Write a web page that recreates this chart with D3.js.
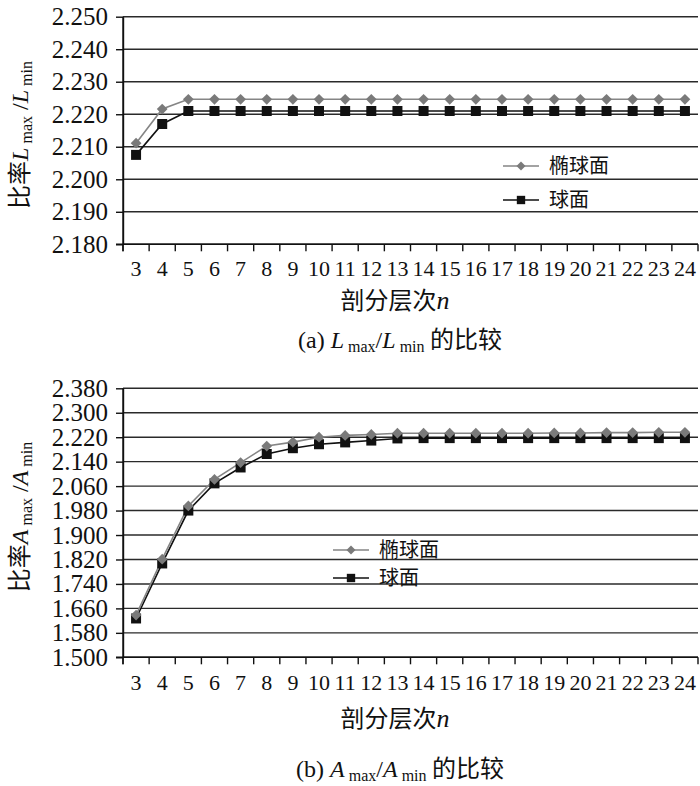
<!DOCTYPE html>
<html><head><meta charset="utf-8">
<script src="https://cdn.jsdelivr.net/npm/d3@7"></script>
<style>
body{margin:0;background:#fff;}
svg text{fill:#111;}
</style></head><body>
<svg id="c" width="700" height="786"></svg>
<script>
// ---- data ----
const categories = [3,4,5,6,7,8,9,10,11,12,13,14,15,16,17,18,19,20,21,22,23,24];
const seriesNames = ["椭球面","球面"];
const ellipsoidL = [2.2111,2.2216,2.2246,2.2246,2.2246,2.2246,2.2246,2.2246,2.2246,2.2246,2.2246,2.2246,2.2246,2.2246,2.2246,2.2246,2.2246,2.2246,2.2246,2.2246,2.2246,2.2246];
const sphereL    = [2.2075,2.2170,2.2210,2.2210,2.2210,2.2210,2.2210,2.2210,2.2210,2.2210,2.2210,2.2210,2.2210,2.2210,2.2210,2.2210,2.2210,2.2210,2.2210,2.2210,2.2210,2.2210];
const ellipsoidA = [1.638,1.821,1.995,2.082,2.137,2.191,2.204,2.220,2.226,2.229,2.233,2.233,2.233,2.233,2.233,2.233,2.234,2.234,2.235,2.235,2.236,2.236];
const sphereA    = [1.627,1.807,1.980,2.069,2.121,2.165,2.184,2.197,2.203,2.209,2.216,2.217,2.217,2.217,2.217,2.217,2.217,2.217,2.217,2.217,2.217,2.217];
const yTicksL = [2.180,2.190,2.200,2.210,2.220,2.230,2.240,2.250];
const yTicksA = [1.500,1.580,1.660,1.740,1.820,1.900,1.980,2.060,2.140,2.220,2.300,2.380];
const xTitle = "剖分层次";

const SERIF = '"Liberation Serif","Times New Roman",serif';
const CJK = '"Noto Sans CJK SC","Noto Sans CJK JP",sans-serif';
const svg = d3.select("#c");
const fmt = d3.format(".3f");

function drawChart(o){
  const g = svg.append("g");
  const x = d3.scaleBand().domain(categories).range([o.left, o.right]).padding(0);
  const y = d3.scaleLinear().domain([o.yTicks[0], o.yTicks[o.yTicks.length-1]]).range([o.bottom, o.top]);

  // gridlines
  g.append("g").selectAll("line").data(o.yTicks).join("line")
    .attr("x1", o.left).attr("x2", o.right)
    .attr("y1", d=>y(d)).attr("y2", d=>y(d))
    .attr("stroke", "#2a2a2a").attr("stroke-width", 1.4);

  // y axis
  const ya = g.append("g").attr("transform", `translate(${o.left},0)`)
    .call(d3.axisLeft(y).tickValues(o.yTicks).tickFormat(fmt).tickSize(7).tickSizeOuter(0).tickPadding(8));
  ya.select(".domain").attr("stroke", "#111").attr("stroke-width", 1.4);
  ya.selectAll(".tick line").attr("stroke", "#111").attr("stroke-width", 1.4);
  ya.selectAll("text").style("font-size", "25px").style("font-family", SERIF).style("fill", "#111");

  // x axis
  const xa = g.append("g").attr("transform", `translate(0,${o.bottom})`)
    .call(d3.axisBottom(x).tickSize(0).tickPadding(o.xLabelPad));
  xa.select(".domain").remove();
  xa.selectAll("text").style("font-size", "22px").style("font-family", SERIF).style("fill", "#111");
  const bounds = categories.map(c => x(c)).concat([x.range()[1]]);
  g.append("g").selectAll("line").data(bounds).join("line")
    .attr("x1", d=>d).attr("x2", d=>d).attr("y1", o.bottom).attr("y2", o.bottom+7)
    .attr("stroke", "#111").attr("stroke-width", 1.4);
  g.append("line").attr("x1", o.left-7).attr("x2", o.right).attr("y1", o.bottom).attr("y2", o.bottom)
    .attr("stroke", "#111").attr("stroke-width", 1.4);
  g.append("line").attr("x1", o.left).attr("x2", o.left).attr("y1", o.top).attr("y2", o.bottom+7)
    .attr("stroke", "#111").attr("stroke-width", 1.4);

  // series
  const cx = c => x(c) + x.bandwidth()/2;
  const line = d3.line().x((d,i)=>cx(categories[i])).y(d=>y(d));
  const ser = [
    {vals:o.sphere, color:"#111", mcolor:"#111", size:100, rot:0},
    {vals:o.ellipsoid, color:"#858585", mcolor:"#7a7a7a", size:58, rot:45}
  ];
  ser.forEach(s=>{
    g.append("path").datum(s.vals).attr("d", line).attr("fill","none")
      .attr("stroke", s.color).attr("stroke-width", 1.6);
  });
  ser.forEach(s=>{
    g.append("g").selectAll("path").data(s.vals).join("path")
      .attr("d", d3.symbol(d3.symbolSquare, s.size))
      .attr("transform", (d,i)=>`translate(${cx(categories[i])},${y(d)}) rotate(${s.rot})`)
      .attr("fill", s.mcolor);
  });

  // legend
  const leg = [
    {name:seriesNames[0], color:"#858585", mcolor:"#7a7a7a", size:40, rot:45, ly:o.legY[0]},
    {name:seriesNames[1], color:"#111", mcolor:"#111", size:70, rot:0, ly:o.legY[1]}
  ];
  leg.forEach(l=>{
    g.append("line").attr("x1", o.legX).attr("x2", o.legX+36).attr("y1", l.ly).attr("y2", l.ly)
      .attr("stroke", l.color).attr("stroke-width", 1.6);
    g.append("path").attr("d", d3.symbol(d3.symbolSquare, l.size))
      .attr("transform", `translate(${o.legX+18},${l.ly}) rotate(${l.rot})`).attr("fill", l.mcolor);
    g.append("text").attr("x", o.legX+46).attr("y", l.ly+7)
      .style("font-size", "20px").style("font-family", CJK).text(l.name);
  });

  // y title
  const yt = g.append("text")
    .attr("transform", `translate(28,${o.yTitleY}) rotate(-90)`)
    .attr("text-anchor", "middle").style("font-size", "24px").style("font-family", SERIF);
  yt.append("tspan").style("font-family", CJK).text("比率");
  yt.append("tspan").style("font-style","italic").text(o.sym);
  yt.append("tspan").style("font-size","16px").attr("dy",4).text(" max");
  yt.append("tspan").attr("dy",-4).text(" /");
  yt.append("tspan").style("font-style","italic").text(o.sym);
  yt.append("tspan").style("font-size","16px").attr("dy",4).text(" min");

  // x title
  const xt = g.append("text").attr("x", o.xTitleX).attr("y", o.xTitleY)
    .attr("text-anchor","middle").style("font-size", "24px").style("font-family", SERIF);
  xt.append("tspan").style("font-family", CJK).text(xTitle);
  xt.append("tspan").style("font-style","italic").style("font-size","26px").text("n");

  // caption
  const cp = g.append("text").attr("x", o.capX).attr("y", o.capY)
    .attr("text-anchor","middle").style("font-size", "24px").style("font-family", SERIF);
  cp.append("tspan").text(o.capLabel + " ");
  cp.append("tspan").style("font-style","italic").text(o.sym);
  cp.append("tspan").style("font-size","16px").attr("dy",4).text(" max");
  cp.append("tspan").attr("dy",-4).text("/");
  cp.append("tspan").style("font-style","italic").text(o.sym);
  cp.append("tspan").style("font-size","16px").attr("dy",4).text(" min");
  cp.append("tspan").attr("dy",-4).style("font-family", CJK).text(" 的比较");
}

drawChart({left:123, right:698, top:16.7, bottom:244.3, yTicks:yTicksL,
  ellipsoid:ellipsoidL, sphere:sphereL, sym:"L", xLabelPad:16,
  legX:503, legY:[166,200], yTitleY:135, xTitleX:395, xTitleY:309, capX:400, capY:348, capLabel:"(a)"});
drawChart({left:123, right:698, top:388.3, bottom:657.3, yTicks:yTicksA,
  ellipsoid:ellipsoidA, sphere:sphereA, sym:"A", xLabelPad:17,
  legX:333, legY:[550,578], yTitleY:517, xTitleX:395, xTitleY:727, capX:400, capY:777, capLabel:"(b)"});
</script>
</body></html>
